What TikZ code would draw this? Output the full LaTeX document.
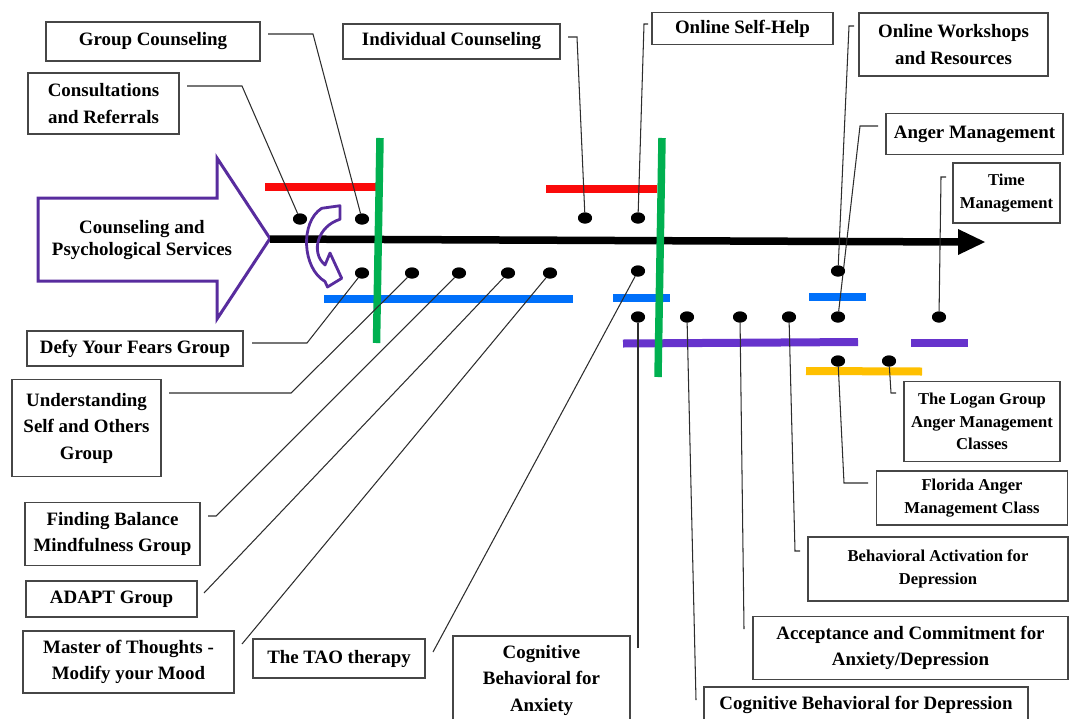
\documentclass[tikz,border=0pt]{standalone}
\usepackage{fontspec}
\setmainfont{Liberation Serif}
\usetikzlibrary{shapes.geometric}
\definecolor{barred}{RGB}{250,10,10}
\definecolor{bargreen}{RGB}{0,176,80}
\definecolor{barblue}{RGB}{0,112,250}
\definecolor{barpurple}{RGB}{102,51,204}
\definecolor{baryellow}{RGB}{255,192,0}
\definecolor{arrowpurple}{RGB}{88,44,158}
\definecolor{edgegray}{RGB}{70,70,70}
\definecolor{linkgray}{RGB}{45,45,45}
\newcommand\mainlbl{\fontsize{18.9}{26.5}\selectfont\bfseries}
\newcommand\smalllbl{\fontsize{16.6}{22.5}\selectfont\bfseries}
\begin{document}
\begin{tikzpicture}[x=1pt,y=-1pt,
  box/.style={draw=edgegray, line width=1.3pt, fill=white, align=center, inner sep=0pt, font=\mainlbl},
  sbox/.style={box, font=\smalllbl},
  dot/.style={ellipse, fill=black, inner sep=0pt, minimum width=14pt, minimum height=11pt},
  bar/.style={line width=8pt},
  link/.style={draw=linkgray, line width=1.05pt}]
\useasboundingbox (0,0) rectangle (1070,718);

% main block arrow with its title
\draw[arrowpurple, line width=3pt, fill=white, line join=miter]
  (38,198) -- (217,198) -- (217,158) -- (270,238.5) -- (217,319) -- (217,281) -- (38,281) -- cycle;
\node[font=\fontsize{18.9}{22.5}\selectfont\bfseries, align=center] (csps) at (142,240)
  {Counseling and\\Psychological Services};

% coloured bars
\draw[bar, barred] (265,187) -- (376,187);
\draw[bar, barred] (546,189) -- (657,189);
\draw[bar, barblue] (324,299) -- (573,299);
\draw[bar, barblue] (613,298) -- (670,298);
\draw[bar, barblue] (809,297) -- (866,297);
\draw[bar, barpurple] (623,343.5) -- (858,342);
\draw[bar, barpurple] (911,342.5) -- (968,342.5);
\draw[bar, baryellow] (806,371) -- (922,371.5);

% timeline
\coordinate (tl0) at (270,239);
\coordinate (tl1) at (962,242);
\draw[line width=7.5pt] (tl0) -- (tl1);
\fill (958,229) -- (985,242) -- (958,255) -- cycle;

% green dividers
\draw[line width=7.5pt, bargreen] (380,138) -- (376.5,343);
\draw[line width=7.5pt, bargreen] (662,138) -- (658,377);

% curved arrow
\draw[arrowpurple, line width=2.8pt, line join=round]
  (321.7,208.3) -- (340,205.7) -- (340,219.3)
  .. controls (318,226) and (310,252) .. (325,265)
  -- (330,253) -- (341.7,278.3) -- (327.5,287) -- (325,281.5)
  .. controls (302,268) and (300,222) .. cycle;

% labels
\node[box, minimum width=214pt, minimum height=39pt] (gc) at (153,41.5) {Group Counseling};
\node[box, minimum width=151pt, minimum height=61pt] (cr) at (103.5,103.5) {Consultations\\and Referrals};
\node[box, minimum width=217pt, minimum height=35pt] (ic) at (451.5,41.5) {Individual Counseling};
\node[box, minimum width=181pt, minimum height=32pt] (osh) at (742.5,28.5) {Online Self-Help};
\node[box, minimum width=189pt, minimum height=63pt] (owr) at (953.5,44.5) {Online Workshops\\and Resources};
\node[box, minimum width=177pt, minimum height=41pt] (am) at (974.5,134) {Anger Management};
\node[sbox, minimum width=107pt, minimum height=60pt] (tm) at (1006.5,193) {Time\\Management};
\node[box, minimum width=216pt, minimum height=35pt] (dyf) at (135,348.5) {Defy Your Fears Group};
\node[box, minimum width=149pt, minimum height=97pt] (uso) at (86.5,428) {Understanding\\Self and Others\\Group};
\node[box, minimum width=175pt, minimum height=63pt] (fbm) at (112.5,534) {Finding Balance\\Mindfulness Group};
\node[box, minimum width=171pt, minimum height=36pt] (adapt) at (111.5,599) {ADAPT Group};
\node[box, minimum width=211pt, minimum height=62pt] (mot) at (128.5,662) {Master of Thoughts -\\Modify your Mood};
\node[box, minimum width=172pt, minimum height=39pt] (tao) at (339,658.5) {The TAO therapy};
\node[box, minimum width=177pt, minimum height=88pt] (cba) at (541.5,680) {Cognitive\\Behavioral for\\Anxiety};
\node[box, minimum width=324pt, minimum height=36pt] (cbd) at (866,705) {Cognitive Behavioral for Depression};
\node[box, minimum width=315pt, minimum height=63pt] (acd) at (910.5,648) {Acceptance and Commitment for\\Anxiety/Depression};
\node[sbox, minimum width=260pt, minimum height=64pt] (bad) at (938,569) {Behavioral Activation for\\Depression};
\node[sbox, minimum width=191pt, minimum height=54pt] (fam) at (972,498) {Florida Anger\\Management Class};
\node[sbox, minimum width=156pt, minimum height=80pt] (logan) at (982,421.5) {The Logan Group\\Anger Management\\Classes};

% dots
\node[dot] (dCR) at (300,219) {};
\node[dot] (dGC) at (362,219) {};
\node[dot] (dIC) at (585,218) {};
\node[dot] (dOSH) at (638,218) {};
\node[dot] (dDYF) at (362,273) {};
\node[dot] (dUSO) at (412,273) {};
\node[dot] (dFBM) at (459,273) {};
\node[dot] (dADAPT) at (508,273) {};
\node[dot] (dMOT) at (550,273) {};
\node[dot] (dTAO) at (638,271) {};
\node[dot] (dOWR) at (838,271) {};
\node[dot] (dCBA) at (638,317) {};
\node[dot] (dCBD) at (687,317) {};
\node[dot] (dACD) at (740,317) {};
\node[dot] (dBAD) at (789,317) {};
\node[dot] (dAM) at (838,317) {};
\node[dot] (dTM) at (939,317) {};
\node[dot] (dFAM) at (838,361) {};
\node[dot] (dLOG) at (889,361) {};

% connector end points beside the labels
\coordinate (cGC) at (268,34);
\coordinate (cCR) at (187,86);
\coordinate (cIC) at (568,37);
\coordinate (cOSH) at (648,24);
\coordinate (cOWR) at (854,26);
\coordinate (cAM) at (878,126);
\coordinate (cTM) at (946,177);
\coordinate (cDYF) at (252,343);
\coordinate (cUSO) at (169,393);
\coordinate (cFBM) at (208,516);
\coordinate (cADAPT) at (204,593);
\coordinate (cMOT) at (242,644);
\coordinate (cTAO) at (433,652);
\coordinate (cCBA) at (638,648);
\coordinate (cCBD) at (696,700);
\coordinate (cACD) at (744,629);
\coordinate (cBAD) at (800,551);
\coordinate (cFAM) at (868,483);
\coordinate (cLOG) at (896,393);

% connectors
\draw[link] (cGC) -- (313,34) -- (dGC);
\draw[link] (cCR) -- (242,86) -- (dCR);
\draw[link] (cIC) -- (577,37) -- (dIC);
\draw[link] (cOSH) -- (644,24) -- (dOSH);
\draw[link] (cOWR) -- (849,26) -- (dOWR);
\draw[link] (cAM) -- (860,126) -- (dAM);
\draw[link] (cTM) -- (941,177) -- (dTM);
\draw[link] (cDYF) -- (307,343) -- (dDYF);
\draw[link] (cUSO) -- (291,393) -- (dUSO);
\draw[link] (cFBM) -- (216,516) -- (dFBM);
\draw[link] (cADAPT) -- (dADAPT);
\draw[link] (cMOT) -- (dMOT);
\draw[link] (cTAO) -- (dTAO);
\draw[link] (cCBA) -- (dCBA);
\draw[link] (cCBD) -- (dCBD);
\draw[link] (cACD) -- (dACD);
\draw[link] (cBAD) -- (795,551) -- (dBAD);
\draw[link] (cFAM) -- (844,483) -- (dFAM);
\draw[link] (cLOG) -- (891,393) -- (dLOG);

% redraw the dots above their connectors
\foreach \d in {dCR,dGC,dIC,dOSH,dDYF,dUSO,dFBM,dADAPT,dMOT,dTAO,dOWR,dCBA,dCBD,dACD,dBAD,dAM,dTM,dFAM,dLOG}
  \fill (\d) ellipse (7pt and 5.5pt);
\end{tikzpicture}
\end{document}
